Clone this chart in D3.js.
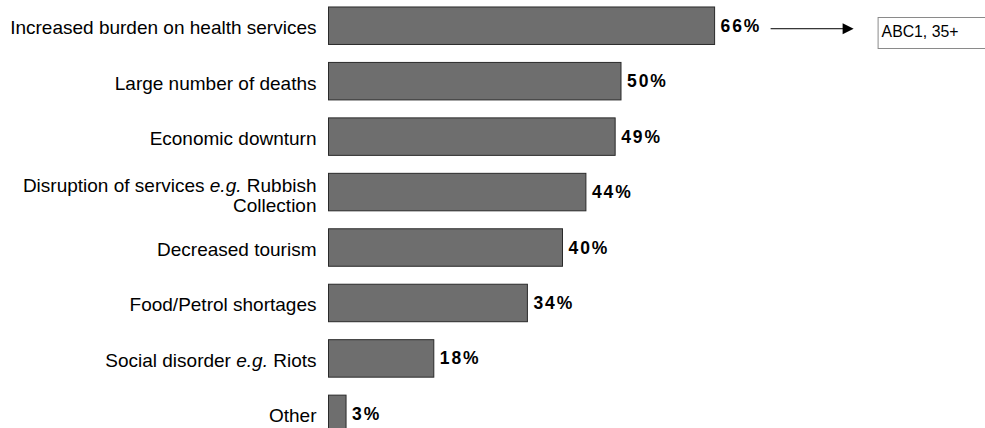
<!DOCTYPE html>
<html>
<head>
<meta charset="utf-8">
<script src="https://cdn.jsdelivr.net/npm/d3@7"></script>
<style>
  html, body { margin: 0; padding: 0; background: #fff; }
  svg { display: block; }
  text { font-family: "Liberation Sans", Arial, sans-serif; fill: #000; }
</style>
</head>
<body>
<svg id="chart" width="985" height="428"></svg>
<script>
// Concerns about an outbreak: share of respondents choosing each consequence
const categories = [
  "Increased burden on health services",
  "Large number of deaths",
  "Economic downturn",
  "Disruption of services e.g. Rubbish Collection",
  "Decreased tourism",
  "Food/Petrol shortages",
  "Social disorder e.g. Riots",
  "Other"
];
const values = [66, 50, 49, 44, 40, 34, 18, 3];
// Category labels split into lines; each line is a list of [text, italic] runs
const labelLines = [
  [[["Increased burden on health services", false]]],
  [[["Large number of deaths", false]]],
  [[["Economic downturn", false]]],
  [[["Disruption of services ", false], ["e.g.", true], [" Rubbish", false]],
   [["Collection", false]]],
  [[["Decreased tourism", false]]],
  [[["Food/Petrol shortages", false]]],
  [[["Social disorder ", false], ["e.g.", true], [" Riots", false]]],
  [[["Other", false]]]
];
const calloutText = "ABC1, 35+";
const calloutIndex = 0;

const svg = d3.select("#chart");

const x = d3.scaleLinear().domain([0, 100]).range([328.5, 328.5 + 585]);
const y = d3.scaleBand()
  .domain(categories)
  .range([-2, 441.6])
  .paddingInner(0.324)
  .paddingOuter(0.162);

// Bars
svg.append("g").selectAll("rect")
  .data(categories)
  .join("rect")
  .attr("x", x(0))
  .attr("y", d => y(d))
  .attr("width", (d, i) => x(values[i]) - x(0))
  .attr("height", y.bandwidth())
  .attr("fill", "#6e6e6e")
  .attr("stroke", "#2a2a2a")
  .attr("stroke-width", 1);

// Category labels, right-aligned against the bars
const labels = svg.append("g").selectAll("text")
  .data(categories)
  .join("text")
  .attr("text-anchor", "end")
  .style("font-size", "19px");

labels.each(function (d, i) {
  const t = d3.select(this);
  const lines = labelLines[i];
  const cy = y(d) + y.bandwidth() / 2;
  const lineH = 20.5;
  const first = lines.length === 1 ? cy + 8.5 : cy - 0.5;
  lines.forEach((runs, li) => {
    runs.forEach((run, ri) => {
      const ts = t.append("tspan").text(run[0]);
      if (ri === 0) ts.attr("x", x(0) - 12).attr("y", first + li * lineH);
      if (run[1]) ts.style("font-style", "italic");
    });
  });
});

// Value labels
svg.append("g").selectAll("text")
  .data(categories)
  .join("text")
  .attr("x", (d, i) => x(values[i]) + 6)
  .attr("y", d => y(d) + y.bandwidth() / 2 + 6)
  .style("font-size", "17.5px")
  .style("font-weight", "bold")
  .style("letter-spacing", "1.9px")
  .text((d, i) => values[i] + "%");

// Callout arrow and box for the top bar
const cat = categories[calloutIndex];
const ay = y(cat) + y.bandwidth() / 2 + 3;
const ax0 = x(values[calloutIndex]) + 56;
const ax1 = ax0 + 83;
const ann = svg.append("g");
ann.append("line")
  .attr("x1", ax0).attr("x2", ax1 - 8)
  .attr("y1", ay).attr("y2", ay)
  .attr("stroke", "#000").attr("stroke-width", 1);
ann.append("path")
  .attr("d", `M${ax1},${ay} L${ax1 - 11},${ay - 5.5} L${ax1 - 11},${ay + 5.5} Z`)
  .attr("fill", "#000");
ann.append("rect")
  .attr("x", ax1 + 24.5).attr("y", 17.5)
  .attr("width", 140).attr("height", 31)
  .attr("fill", "#fff")
  .attr("stroke", "#8a8a8a").attr("stroke-width", 1);
ann.append("text")
  .attr("x", ax1 + 28).attr("y", 37)
  .style("font-size", "15.8px")
  .text(calloutText);
</script>
</body>
</html>
